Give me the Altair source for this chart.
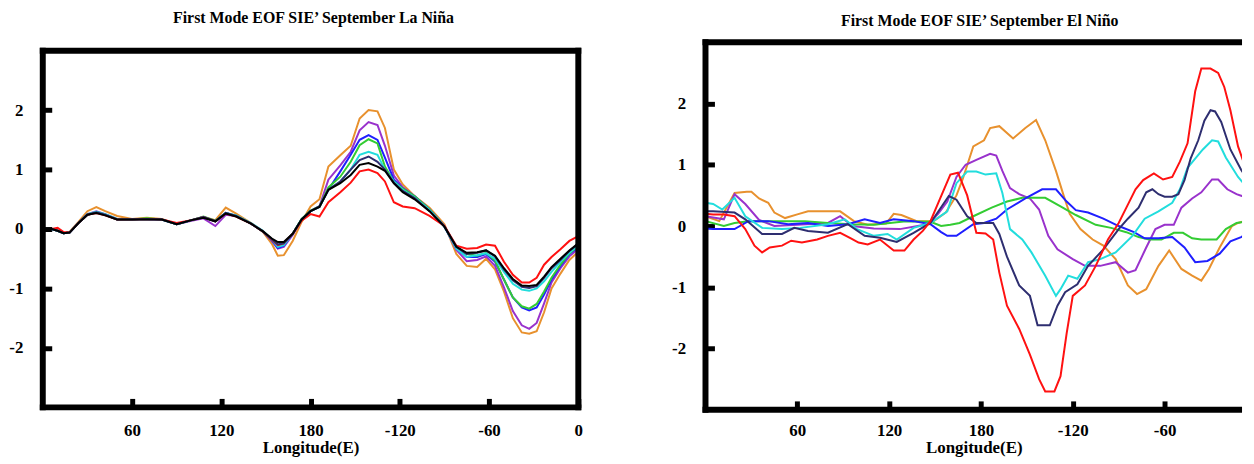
import altair as alt
import pandas as pd

TITLE_L = "First Mode EOF SIE\u2019 September La Ni\u00f1a"
TITLE_R = "First Mode EOF SIE\u2019 September El Ni\u00f1o"
X_TITLE = "Longitude(E)"
Y_TICKS = [-2, -1, 0, 1, 2]
X_TICKS_L = [60, 120, 180, 240, 300, 360]
X_TICKS_R = [60, 120, 180, 240, 300]
FONT = "Liberation Serif"

COLORS = {
    "orange": "#e8912e",
    "purple": "#9932cc",
    "blue": "#1f1fff",
    "green": "#33cc33",
    "cyan": "#22dddd",
    "red": "#ff1111",
    "navy": "#2e2e70",
    "black": "#000000",
}

# ---------------- La Nina panel (shared longitude grid) ----------------
LON_L = [0, 6, 10, 14, 18, 24, 30, 36, 42, 50, 60, 70, 80, 90, 100, 108, 116, 123, 130, 140,
         148, 154, 158, 162, 168, 174, 180, 186, 192, 200, 207, 213, 219, 225, 230, 236, 242, 250,
         260, 270, 278, 285, 292, 298, 304, 310, 316, 322, 327, 332, 337, 342, 348, 354, 360]

ORANGE_L = [0.0, 0.0, -0.03, -0.07, -0.05, 0.12, 0.3, 0.37, 0.3, 0.22, 0.17, 0.19, 0.17, 0.08, 0.15,
            0.2, 0.15, 0.36, 0.26, 0.1, -0.05, -0.25, -0.45, -0.44, -0.2, 0.12, 0.38, 0.5,
            1.05, 1.24, 1.4, 1.86, 2.0, 1.98, 1.7, 1.0, 0.75, 0.55, 0.36, 0.08, -0.42, -0.62, -0.64,
            -0.5, -0.68, -1.05, -1.5, -1.74, -1.76, -1.72, -1.4, -1.0, -0.75, -0.52, -0.38]
PURPLE_L = [0.0, 0.0, -0.03, -0.07, -0.06, 0.1, 0.25, 0.3, 0.25, 0.17, 0.16, 0.17, 0.16, 0.08, 0.14,
            0.18, 0.05, 0.24, 0.22, 0.09, -0.04, -0.2, -0.33, -0.3, -0.1, 0.15, 0.3, 0.38,
            0.83, 1.07, 1.3, 1.66, 1.8, 1.75, 1.4, 0.9, 0.7, 0.55, 0.33, 0.05, -0.35, -0.54, -0.52,
            -0.46, -0.62, -0.98, -1.38, -1.62, -1.68, -1.58, -1.25, -0.9, -0.66, -0.46, -0.33]
BLUE_L = [0.0, 0.0, -0.03, -0.07, -0.06, 0.1, 0.24, 0.28, 0.24, 0.16, 0.17, 0.17, 0.16, 0.08, 0.15,
          0.2, 0.13, 0.27, 0.22, 0.09, -0.04, -0.19, -0.32, -0.28, -0.08, 0.16, 0.3, 0.38,
          0.66, 0.97, 1.25, 1.5, 1.58, 1.5, 1.2, 0.83, 0.68, 0.55, 0.33, 0.04, -0.32, -0.47, -0.47,
          -0.42, -0.55, -0.85, -1.15, -1.32, -1.37, -1.32, -1.1, -0.85, -0.62, -0.42, -0.3]
GREEN_L = [0.0, 0.0, -0.03, -0.07, -0.06, 0.1, 0.24, 0.28, 0.24, 0.16, 0.16, 0.18, 0.16, 0.08, 0.15,
           0.21, 0.14, 0.27, 0.22, 0.09, -0.04, -0.18, -0.27, -0.25, -0.08, 0.17, 0.31, 0.38,
           0.7, 0.88, 1.13, 1.41, 1.51, 1.44, 1.05, 0.8, 0.68, 0.55, 0.33, 0.04, -0.3, -0.42, -0.45,
           -0.4, -0.53, -0.85, -1.15, -1.3, -1.34, -1.26, -1.05, -0.82, -0.6, -0.41, -0.28]
CYAN_L = [0.0, 0.0, -0.03, -0.07, -0.06, 0.1, 0.25, 0.29, 0.25, 0.17, 0.16, 0.17, 0.16, 0.08, 0.15,
          0.2, 0.13, 0.27, 0.23, 0.1, -0.03, -0.18, -0.3, -0.27, -0.08, 0.16, 0.3, 0.37,
          0.66, 0.8, 1.0, 1.25, 1.3, 1.25, 1.0, 0.8, 0.66, 0.53, 0.32, 0.04, -0.33, -0.47, -0.44,
          -0.41, -0.5, -0.72, -0.92, -1.02, -1.04, -1.0, -0.88, -0.72, -0.55, -0.4, -0.27]
RED_L = [0.0, 0.0, 0.02, -0.05, -0.06, 0.1, 0.24, 0.27, 0.23, 0.16, 0.16, 0.17, 0.16, 0.1, 0.15,
         0.2, 0.13, 0.26, 0.21, 0.09, -0.04, -0.18, -0.27, -0.24, -0.08, 0.14, 0.25, 0.21,
         0.45, 0.62, 0.78, 0.97, 1.0, 0.94, 0.8, 0.45, 0.38, 0.35, 0.22, 0.05, -0.28, -0.33, -0.32,
         -0.26, -0.28, -0.55, -0.77, -0.9, -0.9, -0.82, -0.6, -0.47, -0.34, -0.2, -0.12]
NAVY_L = [0.0, 0.0, -0.03, -0.07, -0.06, 0.1, 0.24, 0.28, 0.24, 0.16, 0.16, 0.17, 0.16, 0.08, 0.15,
          0.2, 0.13, 0.27, 0.22, 0.09, -0.04, -0.17, -0.26, -0.24, -0.08, 0.16, 0.3, 0.38,
          0.66, 0.8, 1.0, 1.16, 1.22, 1.13, 1.0, 0.78, 0.64, 0.52, 0.3, 0.04, -0.3, -0.42, -0.4,
          -0.36, -0.46, -0.68, -0.86, -0.97, -0.99, -0.96, -0.82, -0.66, -0.52, -0.37, -0.25]
BLACK_L = [0.0, 0.0, -0.03, -0.07, -0.06, 0.1, 0.24, 0.27, 0.23, 0.16, 0.16, 0.16, 0.16, 0.08, 0.15,
           0.19, 0.13, 0.26, 0.21, 0.09, -0.04, -0.16, -0.22, -0.22, -0.08, 0.16, 0.3, 0.37,
           0.66, 0.77, 0.91, 1.08, 1.11, 1.05, 0.98, 0.77, 0.62, 0.5, 0.3, 0.04, -0.3, -0.4, -0.39,
           -0.36, -0.45, -0.66, -0.84, -0.95, -0.96, -0.94, -0.8, -0.64, -0.5, -0.36, -0.24]

LEFT_SERIES = [
    ("orange", LON_L, ORANGE_L), ("purple", LON_L, PURPLE_L), ("blue", LON_L, BLUE_L),
    ("green", LON_L, GREEN_L), ("cyan", LON_L, CYAN_L), ("red", LON_L, RED_L),
    ("navy", LON_L, NAVY_L), ("black", LON_L, BLACK_L),
]

# ---------------- El Nino panel (each series with its own longitudes) ----------------
RED_R_LON = [0, 5, 12, 19, 26, 32, 37, 42, 50, 56, 63, 73, 80, 88, 95, 100, 106, 114, 123, 130, 136,
             142, 147, 153, 160, 165, 171, 177, 183, 188, 192, 197, 205, 212, 218, 222, 228, 232, 236,
             240, 248, 255, 263, 270, 276, 281, 286, 293, 299, 305, 310, 315, 320, 324, 330, 335, 339,
             343, 348, 354, 360]
RED_R = [0.2, 0.19, 0.19, 0.16, -0.05, -0.32, -0.43, -0.35, -0.32, -0.24, -0.27, -0.22, -0.16, -0.11,
         -0.2, -0.27, -0.3, -0.22, -0.4, -0.4, -0.22, -0.08, 0.08, 0.43, 0.84, 0.87, 0.5, -0.11, -0.12,
         -0.22, -0.76, -1.3, -1.68, -2.1, -2.5, -2.7, -2.7, -2.45, -1.75, -1.14, -0.97, -0.65, -0.22,
         0.05, 0.35, 0.6, 0.75, 0.86, 0.76, 0.8, 1.05, 1.35, 2.2, 2.57, 2.57, 2.5, 2.27, 1.89, 1.3,
         0.87, 0.55]

NAVY_R_LON = [0, 5, 19, 26, 37, 50, 58, 67, 80, 93, 104, 114, 125, 136, 147, 153, 159, 164, 171, 177,
              188, 192, 197, 205, 212, 217, 225, 230, 235, 243, 250, 260, 270, 276, 283, 288, 292, 296,
              300, 305, 309, 313, 317, 322, 326, 330, 333, 337, 343, 350, 356, 360]
NAVY_R = [0.24, 0.24, 0.22, 0.11, -0.13, -0.13, -0.03, -0.08, -0.11, 0.03, -0.16, -0.19, -0.26, -0.11,
          0.05, 0.27, 0.49, 0.43, 0.16, 0.05, 0.05, -0.13, -0.5, -0.97, -1.14, -1.62, -1.62, -1.3,
          -1.08, -0.95, -0.65, -0.38, -0.05, 0.12, 0.3, 0.55, 0.6, 0.52, 0.48, 0.48, 0.52, 0.75, 1.1,
          1.4, 1.72, 1.89, 1.87, 1.7, 1.25, 0.92, 0.68, 0.55]

CYAN_R_LON = [0, 5, 11, 19, 26, 37, 50, 62, 80, 91, 99, 110, 119, 125, 136, 147, 158, 164, 171, 177,
              183, 190, 194, 199, 207, 213, 222, 229, 232, 237, 243, 250, 258, 268, 279, 287, 296, 305,
              310, 315, 320, 325, 331, 335, 340, 348, 355, 360]
CYAN_R = [0.38, 0.36, 0.27, 0.46, 0.16, -0.03, -0.05, -0.03, 0.03, 0.11, -0.05, -0.16, -0.13, -0.22,
          -0.03, 0.05, 0.24, 0.7, 0.89, 0.89, 0.84, 0.86, 0.54, -0.05, -0.22, -0.43, -0.81, -1.14,
          -1.03, -0.81, -0.86, -0.59, -0.54, -0.43, -0.16, 0.12, 0.24, 0.38, 0.6, 0.95, 1.1, 1.25,
          1.4, 1.38, 1.12, 0.8, 0.6, 0.52]

PURPLE_R_LON = [0, 5, 12, 19, 26, 35, 45, 60, 80, 88, 96, 110, 127, 145, 152, 158, 164, 170, 177, 186,
                190, 194, 199, 205, 212, 218, 224, 230, 240, 248, 258, 268, 276, 281, 288, 294, 300,
                306, 311, 318, 324, 331, 335, 341, 347, 353, 360]
PURPLE_R = [0.16, 0.14, 0.11, 0.52, 0.36, 0.1, 0.0, 0.02, 0.05, 0.16, 0.0, -0.04, -0.05, 0.03, 0.2,
            0.4, 0.8, 1.0, 1.08, 1.18, 1.15, 0.9, 0.62, 0.52, 0.45, 0.27, -0.16, -0.38, -0.54, -0.65,
            -0.65, -0.59, -0.76, -0.72, -0.35, -0.05, 0.02, 0.02, 0.3, 0.45, 0.55, 0.76, 0.76, 0.6,
            0.52, 0.47, 0.45]

ORANGE_R_LON = [0, 9, 19, 27, 30, 35, 41, 45, 52, 60, 67, 88, 97, 106, 118, 123, 128, 138, 149, 157,
                164, 168, 175, 182, 186, 192, 201, 209, 216, 222, 229, 234, 238, 245, 253, 260, 268,
                276, 282, 288, 296, 303, 311, 318, 324, 329, 336, 344, 348, 355, 360]
ORANGE_R = [0.16, 0.08, 0.54, 0.56, 0.56, 0.45, 0.38, 0.22, 0.13, 0.19, 0.24, 0.24, 0.08, 0.02, 0.04,
            0.2, 0.18, 0.08, 0.08, 0.22, 0.5, 0.76, 1.3, 1.4, 1.6, 1.63, 1.43, 1.6, 1.73, 1.4, 0.9,
            0.5, 0.2, -0.05, -0.22, -0.32, -0.54, -0.97, -1.11, -1.03, -0.65, -0.4, -0.7, -0.81,
            -0.89, -0.7, -0.35, 0.0, 0.05, 0.1, 0.14]

GREEN_R_LON = [0, 12, 19, 28, 50, 65, 80, 95, 110, 131, 147, 154, 160, 166, 175, 187, 197, 207, 222,
               232, 242, 255, 265, 275, 283, 290, 298, 306, 312, 318, 324, 334, 340, 347, 355, 360]
GREEN_R = [0.08, 0.0, 0.05, 0.08, 0.08, 0.08, 0.05, 0.03, 0.02, 0.08, 0.07, 0.0, 0.02, 0.05, 0.16,
           0.3, 0.4, 0.46, 0.46, 0.32, 0.18, 0.02, -0.03, -0.1, -0.18, -0.22, -0.22, -0.11, -0.11,
           -0.2, -0.22, -0.22, -0.05, 0.05, 0.08, 0.1]

BLUE_R_LON = [0, 5, 19, 28, 41, 54, 67, 80, 93, 104, 114, 123, 136, 147, 154, 158, 164, 175, 182, 190,
              197, 209, 220, 229, 236, 242, 250, 260, 270, 280, 287, 296, 305, 313, 320, 328, 336, 343,
              350, 355, 360]
BLUE_R = [-0.04, -0.05, -0.05, 0.08, 0.08, 0.03, 0.05, 0.0, 0.03, 0.11, 0.05, 0.11, 0.08, 0.03, -0.1,
          -0.16, -0.16, 0.03, 0.05, 0.12, 0.27, 0.45, 0.6, 0.6, 0.4, 0.26, 0.22, 0.12, 0.0, -0.1,
          -0.2, -0.2, -0.18, -0.35, -0.59, -0.57, -0.45, -0.25, -0.18, -0.11, -0.08]

RIGHT_SERIES = [
    ("orange", ORANGE_R_LON, ORANGE_R), ("purple", PURPLE_R_LON, PURPLE_R),
    ("green", GREEN_R_LON, GREEN_R), ("blue", BLUE_R_LON, BLUE_R),
    ("cyan", CYAN_R_LON, CYAN_R), ("navy", NAVY_R_LON, NAVY_R), ("red", RED_R_LON, RED_R),
]

LABEL_EXPR_X = ("datum.value == 360 ? '0' : (datum.value > 180 ? '' + (datum.value - 360) "
                ": '' + datum.value)")


def panel(series, width, height, xmax, xticks, frame_top, ymax, right_frame,
          title, title_dx, title_offset, x_label_pad):
    """frame_top: pixel row of the top border inside the view (view may start above it)."""
    x_enc = alt.X(
        "lon:Q",
        scale=alt.Scale(domain=[0, xmax], nice=False, zero=False),
        axis=alt.Axis(values=xticks, labelExpr=LABEL_EXPR_X, title=X_TITLE, grid=False,
                      domain=False, tickSize=9, tickWidth=5, tickColor="black", offset=-9,
                      labelPadding=x_label_pad, labelFlush=False, labelFont=FONT,
                      labelFontSize=17, labelFontWeight="bold", labelColor="black",
                      labelAngle=0, titleFont=FONT, titleFontSize=17, titleFontWeight="bold",
                      titleColor="black", titlePadding=1),
    )
    y_enc = alt.Y(
        "val:Q",
        scale=alt.Scale(domain=[-3, ymax], nice=False, zero=False),
        axis=alt.Axis(values=Y_TICKS, labelExpr="'' + datum.value", title=None, grid=False,
                      domain=False, tickSize=9, tickWidth=5, tickColor="black", offset=-9,
                      labelPadding=20, labelFont=FONT, labelFontSize=17,
                      labelFontWeight="bold", labelColor="black"),
    )
    layers = []
    for name, lons, vals in series:
        df = pd.DataFrame({"lon": lons, "val": vals})
        layers.append(
            alt.Chart(df).mark_line(color=COLORS[name], strokeWidth=2, clip=True)
            .encode(x=x_enc, y=y_enc)
        )
    one = pd.DataFrame({"k": [0]})
    frame = alt.Chart(one).mark_rule(color="black", strokeWidth=6)
    x_end = width + 3 if right_frame else width
    layers.append(frame.encode(x=alt.value(-3), x2=alt.value(x_end), y=alt.value(frame_top)))
    layers.append(frame.encode(x=alt.value(-3), x2=alt.value(x_end), y=alt.value(height)))
    layers.append(frame.encode(x=alt.value(0), y=alt.value(frame_top - 3), y2=alt.value(height + 3)))
    if right_frame:
        layers.append(frame.encode(x=alt.value(width), y=alt.value(frame_top - 3),
                                   y2=alt.value(height + 3)))
    return alt.layer(*layers).properties(
        width=width,
        height=height,
        title=alt.TitleParams(text=title, font=FONT, fontSize=16, fontWeight="bold",
                              color="black", anchor="middle", dx=title_dx, offset=title_offset),
    )


# left view starts 8.5 px above its frame, so both panels share the same view origin
left = panel(LEFT_SERIES, 539, 367.5, 360, X_TICKS_L, 8.5, 3.142, True,
             TITLE_L, 3, 16, 15)
# right panel is cut at the page edge, as in the reference (its right border is not shown)
right = panel(RIGHT_SERIES, 540, 370, 350.6, X_TICKS_R, 0, 3.0, False,
              TITLE_R, 6, 7.5, 12.5)

chart = (
    alt.hconcat(left, right, spacing=86)
    .properties(padding={"left": 0, "top": 0, "right": 0, "bottom": 0})
    .configure_view(stroke="transparent")
)

chart.save("out.html", embed_options={"renderer": "svg", "actions": False})
